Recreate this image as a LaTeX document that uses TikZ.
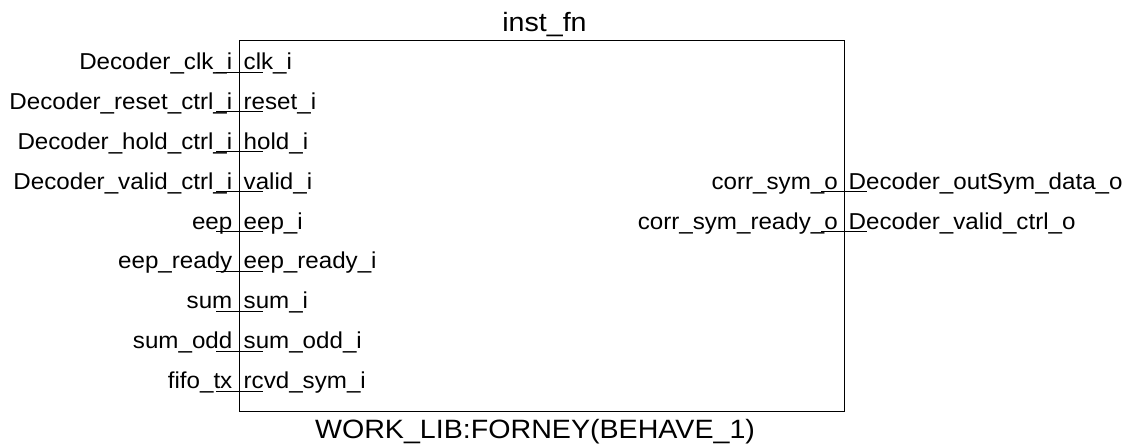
\documentclass[tikz,border=0pt]{standalone}
\usepackage{fontspec}
\setmainfont{Liberation Sans}
\newfontfamily\pinfont[FakeStretch=1.05]{Liberation Sans}
\newfontfamily\capfont[FakeStretch=1.08]{Liberation Sans}
\tikzset{
  pinlabel/.style={inner sep=0pt, font=\pinfont\fontsize{23}{25}\selectfont},
  caption/.style={inner sep=0pt, font=\capfont\fontsize{26.5}{28}\selectfont},
  blockbox/.style={draw=black, line width=1.3pt, inner sep=0pt},
  pinwire/.style={draw=black, line width=0.9pt},
}
\begin{document}
\begin{tikzpicture}[x=1pt, y=-1pt]
\useasboundingbox (0,0) rectangle (1125,446);
% component body
\node[blockbox, minimum width=604.8pt, minimum height=370.7pt] (blk) at (541.9,225.85) {};
\node[caption, anchor=base] (inst) at (544.5,31.7) {inst\_fn};
\node[caption, anchor=base] (ent) at (535,438.5) {WORK\_LIB:FORNEY(BEHAVE\_1)};
% input ports: index/outer signal/inner port
\foreach \k/\outer/\inner in {
  0/Decoder\_clk\_i/clk\_i,
  1/Decoder\_reset\_ctrl\_i/reset\_i,
  2/Decoder\_hold\_ctrl\_i/hold\_i,
  3/Decoder\_valid\_ctrl\_i/valid\_i,
  4/eep/eep\_i,
  5/eep\_ready/eep\_ready\_i,
  6/sum/sum\_i,
  7/sum\_odd/sum\_odd\_i,
  8/fifo\_tx/rcvd\_sym\_i}{
  \pgfmathsetmacro{\py}{72+39.9*\k}
  \coordinate (inA\k) at (216,\py);
  \coordinate (inB\k) at (263,\py);
  \draw[pinwire] (inA\k) -- (inB\k);
  \node[pinlabel, anchor=base east] (insig\k) at (232.5,\py-2.5) {\outer};
  \node[pinlabel, anchor=base west] (inport\k) at (243.5,\py-2.5) {\inner};
}
% output ports
\foreach \k/\inner/\outer in {
  3/corr\_sym\_o/Decoder\_outSym\_data\_o,
  4/corr\_sym\_ready\_o/Decoder\_valid\_ctrl\_o}{
  \pgfmathsetmacro{\py}{72+39.9*\k}
  \coordinate (outA\k) at (821,\py);
  \coordinate (outB\k) at (867,\py);
  \draw[pinwire] (outA\k) -- (outB\k);
  \node[pinlabel, anchor=base east] (outport\k) at (838,\py-2.5) {\inner};
  \node[pinlabel, anchor=base west] (outsig\k) at (848.5,\py-2.5) {\outer};
}
\end{tikzpicture}
\end{document}
